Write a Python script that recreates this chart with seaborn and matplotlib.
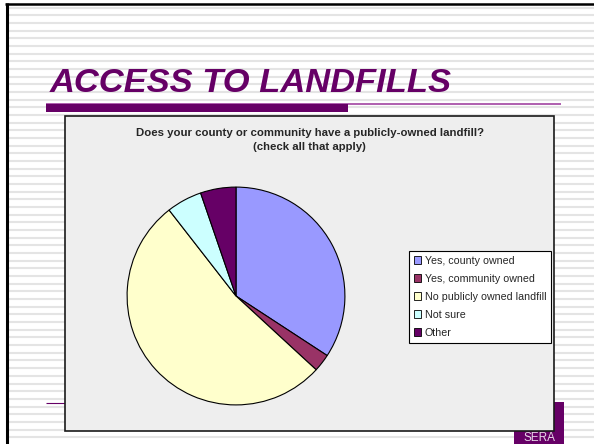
import numpy as np
import matplotlib
matplotlib.use("Agg")
import matplotlib.pyplot as plt
from matplotlib.patches import Rectangle, Patch
import seaborn as sns

# survey answers (counts)
answers = ["Yes, county owned", "Yes, community owned", "No publicly owned landfill",
           "Not sure", "Other"]
counts = [13, 1, 20, 2, 2]
slice_colors = ["#9999FF", "#993366", "#FFFFCC", "#CCFFFF", "#660066"]

slide_title = "ACCESS TO LANDFILLS"
chart_title = ["Does your county or community have a publicly-owned landfill?",
               "(check all that apply)"]

sns.set_style("white")
plt.rcParams["font.family"] = ["Liberation Sans", "DejaVu Sans"]

W, H = 594, 444
fig = plt.figure(figsize=(W / 100, H / 100), dpi=100)
fig.patch.set_facecolor("white")

# background layer in pixel coordinates
bg = fig.add_axes([0, 0, 1, 1])
bg.set_xlim(0, W)
bg.set_ylim(H, 0)
bg.axis("off")

# striped slide background
bg.hlines(np.arange(7.67, H, 7.67), 8, W, color="#E4E4E4", lw=1.5, zorder=0)
# slide border (top and left)
bg.hlines(4.2, 5, W, color="black", lw=1.8, zorder=1)
bg.vlines(6.5, 3.5, H, color="black", lw=2.2, zorder=1)

# title and underline
bg.text(50, 91.5, slide_title, fontsize=24.8, fontweight="bold", fontstyle="italic",
        color="#660066", va="baseline", ha="left")
bg.hlines(104.5, 46, 561, color="#993399", lw=1.1, zorder=2)
bg.add_patch(Rectangle((46, 104), 302, 8, color="#660066", lw=0, zorder=3))

# footer line and SERA tag
bg.hlines(402.5, 46, 514, color="#660066", lw=0.8, zorder=2)
bg.add_patch(Rectangle((514, 402), 50, 44, color="#660066", lw=0, zorder=2))
bg.text(539, 441, "SERA", fontsize=8.5, color="#E8D8E8", ha="center", va="baseline", zorder=3)

# chart area
bg.add_patch(Rectangle((65, 116), 489, 315, facecolor="#EEEEEE", edgecolor="#1A1A1A",
                       lw=1.2, zorder=4))
for line, base in zip(chart_title, [135.5, 149.5]):
    bg.text(309.5, base, line, fontsize=8.2, fontweight="bold", ha="center",
            va="baseline", zorder=5)

# pie
cx, cy, r = 236, 296, 110
ax = fig.add_axes([(cx - r) / W, (H - cy - r) / H, 2 * r / W, 2 * r / H])
ax.pie(counts, colors=slice_colors, startangle=90, counterclock=False,
       wedgeprops=dict(edgecolor="black", linewidth=0.8))
ax.set_xlim(-1.01, 1.01)
ax.set_ylim(-1.01, 1.01)
ax.set_aspect("equal")
ax.axis("off")

# legend
handles = [Patch(facecolor=c, edgecolor="black", lw=0.6) for c in slice_colors]
leg = fig.legend(handles, answers, loc="upper left",
                 bbox_to_anchor=(409 / W, 1 - 251 / H), borderaxespad=0,
                 fontsize=7.7, handlelength=0.7, handleheight=0.7, handletextpad=0.3,
                 labelspacing=0.75, borderpad=0.45, frameon=True, fancybox=False)
leg.get_frame().set_edgecolor("black")
leg.get_frame().set_linewidth(0.8)
leg.get_frame().set_facecolor("white")
leg.get_frame().set_alpha(1)

fig.savefig("out.png", dpi=100)
